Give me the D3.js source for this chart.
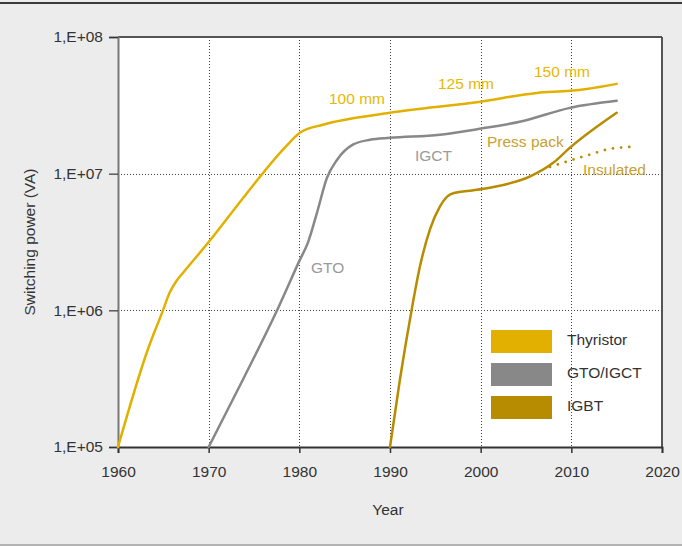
<!DOCTYPE html>
<html>
<head>
<meta charset="utf-8">
<script src="https://cdn.jsdelivr.net/npm/d3@7"></script>
<style>
  html, body { margin: 0; padding: 0; background: #ececec; }
  svg { display: block; font-family: "Liberation Sans", Arial, Helvetica, sans-serif; }
</style>
</head>
<body>
<svg id="chart" width="682" height="546"></svg>
<script>
// Switching power of power semiconductor devices over time (VA, log scale)
const xTicks = [1960, 1970, 1980, 1990, 2000, 2010, 2020];
const yTicks = [1e5, 1e6, 1e7, 1e8];
const yTickLabels = ["1,E+05", "1,E+06", "1,E+07", "1,E+08"];

const thyristorYears = [1960, 1963.3, 1964.96, 1965.7, 1966.5, 1967.2, 1970, 1974, 1978.4, 1980.1, 1982.6, 1990, 2000, 2006.2, 2009.85, 2011.7, 2015];
const thyristorPower = [1.0e5, 5.19e5, 1.0e6, 1.35e6, 1.66e6, 1.89e6, 3.16e6, 6.9e6, 1.55e7, 2.0e7, 2.28e7, 2.79e7, 3.36e7, 3.9e7, 4.04e7, 4.17e7, 4.54e7];

const gtoYears = [1970, 1973.8, 1977.6, 1980.07, 1980.95, 1981.95, 1983.05, 1984.15, 1985.9, 1987.8, 1990, 1995.5, 1999.9, 2004.3, 2009.85, 2015];
const gtoPower = [1.0e5, 3.13e5, 1.02e6, 2.35e6, 3.13e6, 5.19e6, 9.33e6, 1.26e7, 1.63e7, 1.77e7, 1.83e7, 1.93e7, 2.13e7, 2.40e7, 3.03e7, 3.41e7];

const igbtYears = [1990, 1991.1, 1992.4, 1993.3, 1994.4, 1995.5, 1996.3, 1997.2, 1998.8, 2001.0, 2005.4, 2008, 2009.85, 2015];
const igbtPower = [1.0e5, 3.13e5, 1.02e6, 2.09e6, 3.9e6, 5.74e6, 6.79e6, 7.26e6, 7.51e6, 7.9e6, 9.5e6, 1.2e7, 1.55e7, 2.79e7];

const insulatedYears = [2007.65, 2010.4, 2012.06, 2013.9, 2016.47];
const insulatedPower = [1.12e7, 1.28e7, 1.38e7, 1.50e7, 1.57e7];

const legendLabels = ["Thyristor", "GTO/IGCT", "IGBT"];
const colors = { thyristor: "#e2b000", gto: "#888888", igbt: "#b88c00" };

const svg = d3.select("#chart");
const W = 682, H = 546;
const plot = { left: 118, right: 662, top: 37, bottom: 447 };

// frame lines
svg.append("line").attr("x1", 0).attr("x2", W).attr("y1", 3).attr("y2", 3)
  .attr("stroke", "#3a3a3a").attr("stroke-width", 2);
svg.append("line").attr("x1", 0).attr("x2", W).attr("y1", 545).attr("y2", 545)
  .attr("stroke", "#a0a0a0").attr("stroke-width", 1.5);

const x = d3.scaleLinear().domain([1960, 2020]).range([plot.left, plot.right]);
const y = d3.scaleLog().domain([1e5, 1e8]).range([plot.bottom, plot.top]);

// plot background
svg.append("rect").attr("x", plot.left).attr("y", plot.top)
  .attr("width", plot.right - plot.left).attr("height", plot.bottom - plot.top)
  .attr("fill", "#ffffff");

// dotted grid
const grid = svg.append("g").attr("stroke", "#444").attr("stroke-width", 1).attr("stroke-dasharray", "1,2");
grid.selectAll("line.v").data(xTicks.slice(1, -1)).join("line")
  .attr("x1", d => Math.round(x(d)) + 0.5).attr("x2", d => Math.round(x(d)) + 0.5)
  .attr("y1", plot.top).attr("y2", plot.bottom);
grid.selectAll("line.h").data(yTicks.slice(1, -1)).join("line")
  .attr("x1", plot.left).attr("x2", plot.right)
  .attr("y1", d => Math.round(y(d)) + 0.5).attr("y2", d => Math.round(y(d)) + 0.5);

// top and right border
svg.append("line").attr("x1", plot.left).attr("x2", plot.right).attr("y1", plot.top).attr("y2", plot.top)
  .attr("stroke", "#555").attr("stroke-width", 1.8);
svg.append("line").attr("x1", plot.right).attr("x2", plot.right).attr("y1", plot.top).attr("y2", plot.bottom)
  .attr("stroke", "#444").attr("stroke-width", 1.8);

// axes
const xAxis = svg.append("g").attr("transform", `translate(0,${plot.bottom})`)
  .call(d3.axisBottom(x).tickValues(xTicks).tickFormat(d3.format("d")).tickSize(6).tickPadding(13));
xAxis.select(".domain").attr("stroke", "#333").attr("stroke-width", 1.8);
xAxis.selectAll(".tick line").attr("stroke", "#333").attr("stroke-width", 1.5);
xAxis.selectAll("text").attr("fill", "#333").attr("font-size", 15.5);

const yAxis = svg.append("g").attr("transform", `translate(${plot.left},0)`)
  .call(d3.axisLeft(y).tickValues(yTicks).tickFormat((d, i) => yTickLabels[i]).tickSize(9).tickPadding(6));
yAxis.select(".domain").attr("stroke", "#777").attr("stroke-width", 2);
yAxis.selectAll(".tick line").attr("stroke", "#333").attr("stroke-width", 1.2);
yAxis.selectAll("text").attr("fill", "#333").attr("font-size", 15.5);

// axis titles
svg.append("text").attr("x", 388).attr("y", 515).attr("text-anchor", "middle")
  .attr("fill", "#333").attr("font-size", 15.5).text("Year");
svg.append("text").attr("transform", "translate(35,242) rotate(-90)").attr("text-anchor", "middle")
  .attr("fill", "#333").attr("font-size", 15.5).text("Switching power (VA)");

// series lines
const line = d3.line().x(d => x(d[0])).y(d => y(d[1])).curve(d3.curveMonotoneX);
const zip = (a, b) => a.map((v, i) => [v, b[i]]);

const g = svg.append("g").attr("fill", "none").attr("stroke-linejoin", "round").attr("stroke-linecap", "round");
g.append("path").attr("d", line(zip(insulatedYears, insulatedPower)))
  .attr("stroke", colors.igbt).attr("stroke-width", 2.8).attr("stroke-dasharray", "0,8.2");
g.append("path").attr("d", line(zip(gtoYears, gtoPower))).attr("stroke", colors.gto).attr("stroke-width", 2.5);
g.append("path").attr("d", line(zip(igbtYears, igbtPower))).attr("stroke", colors.igbt).attr("stroke-width", 2.5);
g.append("path").attr("d", line(zip(thyristorYears, thyristorPower))).attr("stroke", colors.thyristor).attr("stroke-width", 2.5);

// annotations
const notes = [
  { t: "100 mm", x: 329, y: 104, c: "#e6b800" },
  { t: "125 mm", x: 438, y: 89, c: "#e6b800" },
  { t: "150 mm", x: 534, y: 77, c: "#e6b800" },
  { t: "IGCT", x: 415, y: 161, c: "#9a9a9a" },
  { t: "GTO", x: 311, y: 273, c: "#9a9a9a" },
  { t: "Press pack", x: 487, y: 147, c: "#c9a12c" },
  { t: "Insulated", x: 583, y: 175, c: "#c9a12c" }
];
svg.append("g").selectAll("text").data(notes).join("text")
  .attr("x", d => d.x).attr("y", d => d.y).attr("fill", d => d.c)
  .attr("font-size", 15.5).text(d => d.t);

// legend
const legColors = [colors.thyristor, colors.gto, colors.igbt];
const leg = svg.append("g").attr("transform", "translate(491,330)");
leg.selectAll("rect").data(legendLabels).join("rect")
  .attr("x", 0).attr("y", (d, i) => i * 33).attr("width", 61).attr("height", 23)
  .attr("fill", (d, i) => legColors[i]);
leg.selectAll("text").data(legendLabels).join("text")
  .attr("x", 76).attr("y", (d, i) => i * 33 + 15).attr("fill", "#333")
  .attr("font-size", 15.5).text(d => d);
</script>
</body>
</html>
